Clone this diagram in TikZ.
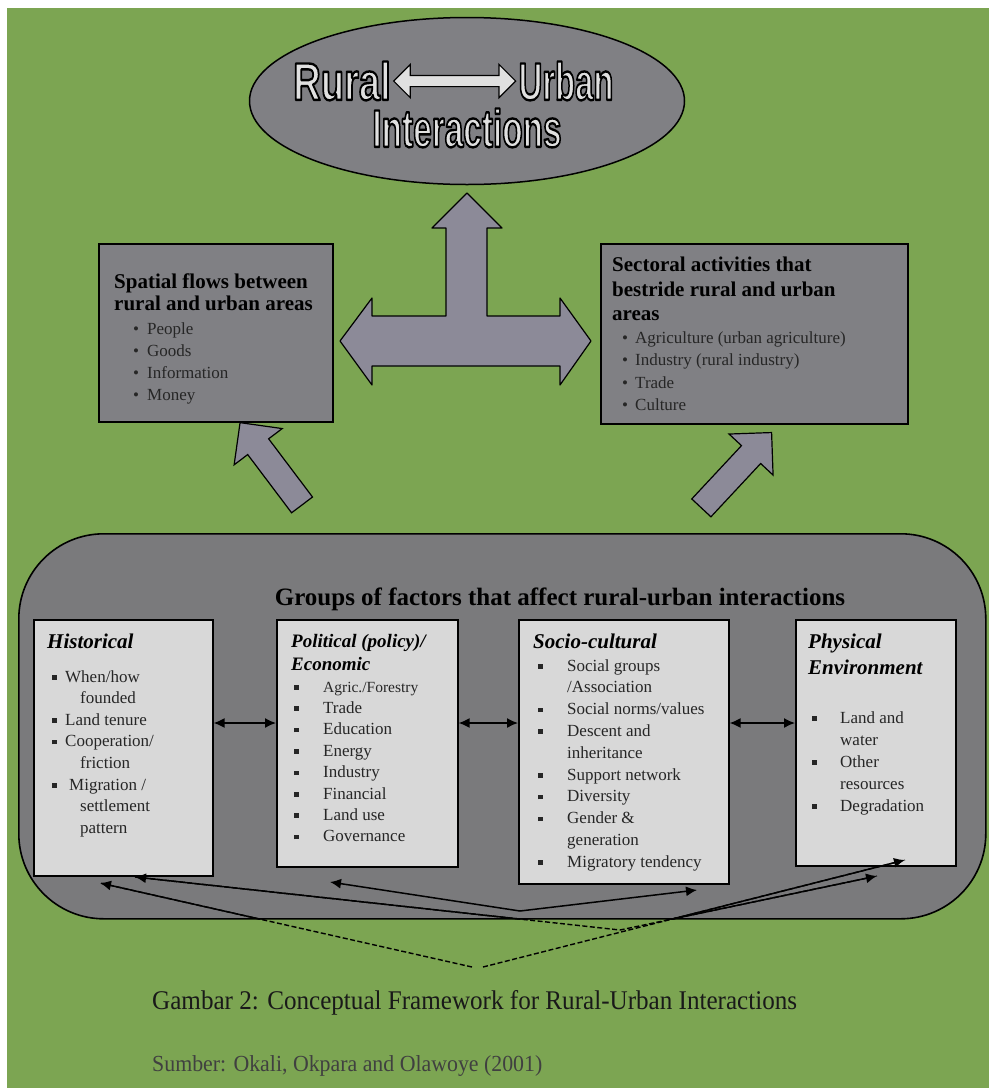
\documentclass[tikz,border=0pt]{standalone}
\usepackage{fontspec}
\setmainfont{Liberation Serif}
\newfontfamily\titlefont{Liberation Sans}
\usepackage{tikz}
\usetikzlibrary{shapes.geometric,shapes.arrows,arrows.meta,calc}
\definecolor{bggreen}{RGB}{124,165,82}
\definecolor{boxgray}{RGB}{128,128,132}
\definecolor{arrowgray}{RGB}{140,138,152}
\definecolor{panelgray}{RGB}{122,122,124}
\definecolor{paper}{RGB}{216,216,216}
\newcommand{\bl}[1][14pt]{\makebox[#1][l]{\textbullet}}
\newcommand{\sq}[1][13pt]{\makebox[#1][l]{\rule[2.5pt]{4.5pt}{4.5pt}}}
\newcommand{\ind}[1][28pt]{\hspace*{#1}}
% white letters with a black outline (text render mode 2)
\newcommand{\outlined}[1]{\special{pdf:literal direct 0 0 0 RG 2.4 w 1 j 2 Tr}#1\special{pdf:literal direct 0 Tr}}

\begin{document}
\begin{tikzpicture}[x=1pt,y=-1pt,
box/.style={draw=black,line width=1.6pt,fill=boxgray,anchor=north west,inner sep=0},
paperbox/.style={draw=black,line width=1.6pt,fill=paper,anchor=north west,inner sep=0},
item/.style={anchor=base west,inner sep=0,font=\fontsize{17}{20}\selectfont,text=black!85},
head/.style={anchor=base west,inner sep=0,font=\fontsize{21}{24}\selectfont\bfseries},
ptitle/.style={anchor=base west,inner sep=0,font=\fontsize{21}{24}\selectfont\bfseries\itshape},
bigword/.style={inner sep=0,text=white!88!black,font={\titlefont\bfseries\fontsize{53}{53}\selectfont}},
blockarrow/.style={single arrow,draw=black,line width=1.2pt,fill=arrowgray,inner xsep=0,inner ysep=12.5pt,
  text height=0pt,text depth=0pt,single arrow head extend=17pt,minimum height=103pt},
tip/.style={-{Latex[length=11pt,width=10pt]},line width=1.5pt},
link/.style={{Latex[length=11pt,width=10pt]}-{Latex[length=11pt,width=10pt]},line width=1.5pt},
fade/.style={line width=1.4pt,dash pattern=on 5pt off 2.5pt}
]
\useasboundingbox (0,0) rectangle (989,1088);
\fill[white] (0,0) rectangle (989,1088);
\fill[bggreen] (7,8) rectangle (989,1088);

% top ellipse
\node[ellipse,draw=black,line width=1.5pt,fill=boxgray,minimum width=435pt,minimum height=167pt,inner sep=0] (ruin) at (467,101) {};
\node[bigword] (rural) at (342,81) {\scalebox{0.72}[1]{\outlined{Rural}}};
\node[bigword] (urban) at (566,81) {\scalebox{0.62}[1]{\outlined{Urban}}};
\node[bigword] (inter) at (467,128) {\scalebox{0.63}[1]{\outlined{Interactions}}};
\node[double arrow,draw=black,line width=1.2pt,fill=white!88!black,inner xsep=0,inner ysep=5pt,
  text height=0pt,text depth=0pt,double arrow head extend=11pt,minimum height=122pt] (ruarrow)
  at ($(rural.east)!0.5!(urban.west)$) {};

% T shaped arrow
\filldraw[fill=arrowgray,draw=black,line width=1.2pt,line join=round]
  (340,341) -- (372,298) -- (372,316) -- (446,316) -- (446,228) -- (432,228) -- (467,193)
  -- (502,228) -- (487,228) -- (487,316) -- (560,316) -- (560,298) -- (591,341)
  -- (560,385) -- (560,366) -- (372,366) -- (372,385) -- cycle;

% upper boxes
\node[box,minimum width=234pt,minimum height=178pt] (spatial) at (98,243) {};
\node[head] (spatial-h1) at (114,288) {Spatial flows between};
\node[head] (spatial-h2) at (114,310) {rural and urban areas};
\foreach \t [count=\i from 0] in {People,Goods,Information,Money}
  \node[item] (spatial-\i) at (133,334+22*\i) {\bl\t};

\node[box,minimum width=307pt,minimum height=180pt] (sectoral) at (600,243) {};
\node[head] (sectoral-h1) at (612,271) {Sectoral activities that};
\node[head] (sectoral-h2) at (612,296) {bestride rural and urban};
\node[head] (sectoral-h3) at (612,320) {areas};
\foreach \t [count=\i from 0] in {Agriculture (urban agriculture),Industry (rural industry),Trade,Culture}
  \node[item] (sectoral-\i) at (622,343+22.5*\i) {\bl[13pt]\t};

\node[blockarrow,rotate=127] (upleft) at (275,469) {};
\node[blockarrow,rotate=47] (upright) at (732,475) {};

% groups of factors
\node[draw=black,line width=1.6pt,fill=panelgray,rounded corners=85pt,minimum width=967pt,
  minimum height=385pt,anchor=north west,inner sep=0] (groups) at (18,533) {};
\node[font=\fontsize{25}{28}\selectfont\bfseries,anchor=base,inner sep=0] (groups-t) at (560,605)
  {Groups of factors that affect rural-urban interactions};

\node[paperbox,minimum width=179pt,minimum height=256pt] (hist) at (33,619) {};
\node[paperbox,minimum width=181pt,minimum height=247pt] (poli) at (276,619) {};
\node[paperbox,minimum width=210pt,minimum height=264pt] (socio) at (518,619) {};
\node[paperbox,minimum width=160pt,minimum height=246pt] (phys) at (795,619) {};

\node[ptitle] (hist-t) at (47,648) {Historical};
\foreach \t [count=\i from 0] in {\sq When/how,\ind founded,\sq Land tenure,\sq Cooperation/,
  \ind friction,\sq[17pt]Migration /,\ind settlement,\ind pattern}
  \node[item] (hist-\i) at (52,682+21.6*\i) {\t};

\node[ptitle,font=\fontsize{19}{22}\selectfont\bfseries\itshape] (poli-t1) at (291,647) {Political (policy)/};
\node[ptitle,font=\fontsize{19}{22}\selectfont\bfseries\itshape] (poli-t2) at (291,670) {Economic};
\foreach \t [count=\i from 0] in {{\fontsize{15.5}{18}\selectfont Agric./Forestry},Trade,Education,
  Energy,Industry,Financial,Land use,Governance}
  \node[item] (poli-\i) at (294,692+21.4*\i) {\sq[29pt]\t};

\node[ptitle] (socio-t) at (533,648) {Socio-cultural};
\foreach \t [count=\i from 0] in {\sq[29pt]Social groups,\ind[29pt]/Association,\sq[29pt]Social norms/values,
  \sq[29pt]Descent and,\ind[29pt]inheritance,\sq[29pt]Support network,\sq[29pt]Diversity,
  \sq[29pt]Gender \&,\ind[29pt]generation,\sq[29pt]Migratory tendency}
  \node[item] (socio-\i) at (538,671+21.8*\i) {\t};

\node[ptitle] (phys-t1) at (808,648) {Physical};
\node[ptitle] (phys-t2) at (808,674) {Environment};
\foreach \t [count=\i from 0] in {\sq[28pt]Land and,\ind water,\sq[28pt]Other,\ind resources,\sq[28pt]Degradation}
  \node[item] (phys-\i) at (812,723+22*\i) {\t};

% links between the groups
\coordinate (row) at (0,723);
\draw[link] (hist.east |- row) -- (poli.west |- row);
\draw[link] (poli.east |- row) -- (socio.west |- row);
\draw[link] (socio.east |- row) -- (phys.west |- row);

% lines under the groups
\coordinate (vL) at (472,967);
\coordinate (vR) at (483,967);
\coordinate (v1) at (520,911);
\coordinate (v2) at (620,930);
\coordinate (hA) at (100,883);
\coordinate (hB) at (135,877);
\coordinate (pO) at (330,882);
\coordinate (sO) at (697,890);
\coordinate (fA) at (877,876);
\coordinate (fB) at (905,860);
\draw[fade] (vL) -- (hA);
\draw[fade] (vR) -- (fB);
\draw[fade] (hB) -- (v2) -- (fA);
\begin{scope}
\clip[rounded corners=85pt] (groups.north west) rectangle (groups.south east);
\draw[tip] (vL) -- (hA);
\draw[tip] (vR) -- (fB);
\draw[link] (hB) -- (v2) -- (fA);
\draw[link] (pO) -- (v1) -- (sO);
\end{scope}

\node[font=\fontsize{27}{30}\selectfont,text=black!90,anchor=base west,inner sep=0] (caption) at (152,1009)
  {\scalebox{0.93}[1]{Gambar 2: Conceptual Framework for Rural-Urban Interactions}};
\node[font=\fontsize{23}{26}\selectfont,text=black!75,anchor=base west,inner sep=0] (source) at (152,1071)
  {\scalebox{0.95}[1]{Sumber: Okali, Okpara and Olawoye (2001)}};
\end{tikzpicture}
\end{document}
